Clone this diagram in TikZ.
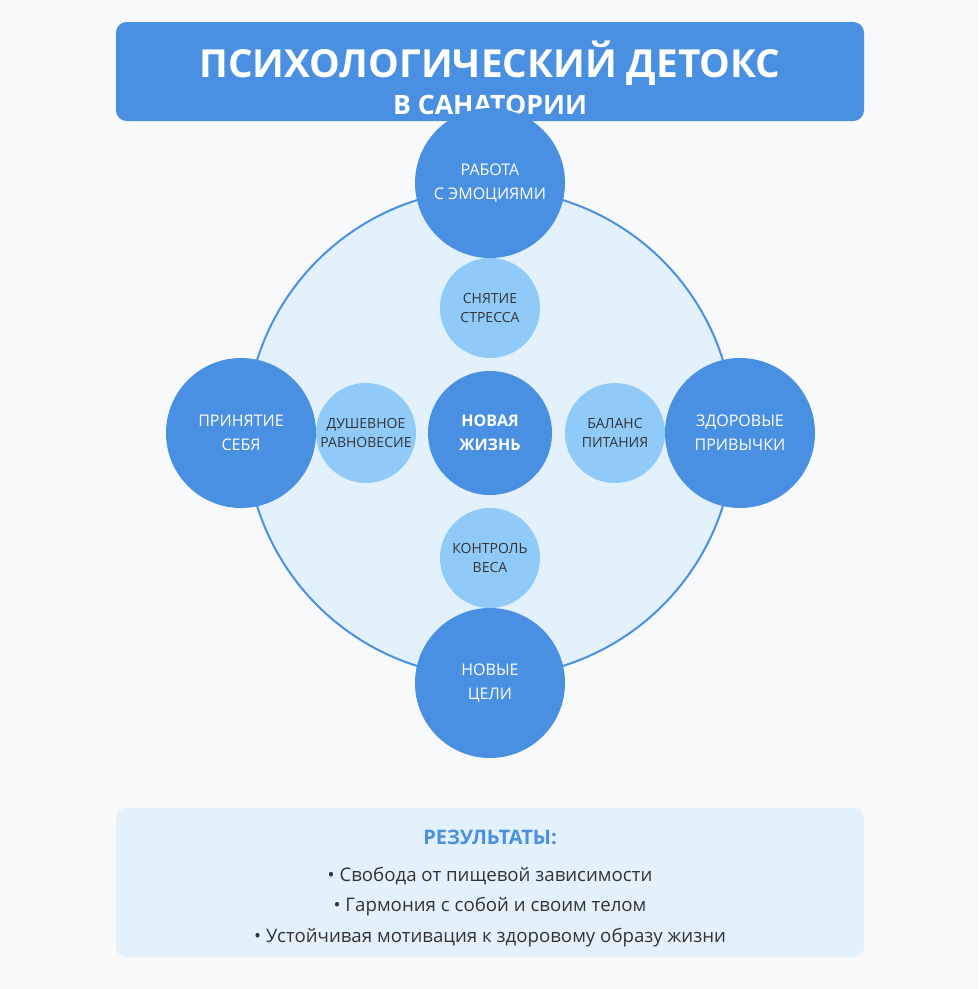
\documentclass[tikz,border=0pt]{standalone}
\usepackage{fontspec}
\setmainfont{Open Sans}
\definecolor{bg}{HTML}{F8F9FB}
\definecolor{mainblue}{HTML}{4A90E2}
\definecolor{paleblue}{HTML}{E3F1FC}
\definecolor{lightblue}{HTML}{90CAF9}
\definecolor{darktext}{HTML}{333333}
\begin{document}
\begin{tikzpicture}[x=0.75pt,y=-0.75pt,
  outer/.style={circle,fill=mainblue,minimum size=112.5pt,inner sep=0pt,text=white,align=center,font=\fontsize{12}{18}\selectfont},
  inner/.style={circle,fill=lightblue,minimum size=75pt,inner sep=0pt,text=darktext,align=center,font=\fontsize{10.5}{14}\selectfont},
  bullet/.style={text=darktext,font=\fontsize{14}{16}\selectfont}]
\fill[bg] (0,0) rectangle (979,989);
\useasboundingbox (0,0) rectangle (979,989);
\node[fill=mainblue,rounded corners=8pt,minimum width=561pt,minimum height=74.25pt,inner sep=0pt] (title) at (490,71.5) {};
\node[text=white,font=\bfseries\fontsize{29}{32}\selectfont] (t1) at (490,63) {ПСИХОЛОГИЧЕСКИЙ ДЕТОКС};
\node[text=white,font=\bfseries\fontsize{20}{24}\selectfont] (t2) at (490,105) {В САНАТОРИИ};
\node[circle,fill=paleblue,draw=mainblue,line width=1.5pt,minimum size=366pt,inner sep=0pt] (big) at (490,433) {};
\node[outer] (top) at (490,183) {РАБОТА\\С ЭМОЦИЯМИ};
\node[outer] (left) at (241,433) {ПРИНЯТИЕ\\СЕБЯ};
\node[outer] (right) at (740,433) {ЗДОРОВЫЕ\\ПРИВЫЧКИ};
\node[outer] (bottom) at (490,683) {НОВЫЕ\\ЦЕЛИ};
\node[inner] (i1) at (490,308) {СНЯТИЕ\\СТРЕССА};
\node[inner] (i2) at (366,433) {ДУШЕВНОЕ\\РАВНОВЕСИЕ};
\node[inner] (i3) at (615,433) {БАЛАНС\\ПИТАНИЯ};
\node[inner] (i4) at (490,558) {КОНТРОЛЬ\\ВЕСА};
\node[circle,fill=mainblue,minimum size=93pt,inner sep=0pt,text=white,align=center,font=\bfseries\fontsize{12}{18}\selectfont] (center) at (490,433) {НОВАЯ\\ЖИЗНЬ};
\node[fill=paleblue,rounded corners=8pt,minimum width=561pt,minimum height=112pt,inner sep=0pt] (res) at (490,882.5) {};
\node[text=mainblue,font=\bfseries\fontsize{15}{18}\selectfont] (rh) at (490,837) {РЕЗУЛЬТАТЫ:};
\node[bullet] (b1) at (490,876) {• Свобода от пищевой зависимости};
\node[bullet] (b2) at (490,907) {• Гармония с собой и своим телом};
\node[bullet] (b3) at (490,938) {• Устойчивая мотивация к здоровому образу жизни};
\end{tikzpicture}
\end{document}
